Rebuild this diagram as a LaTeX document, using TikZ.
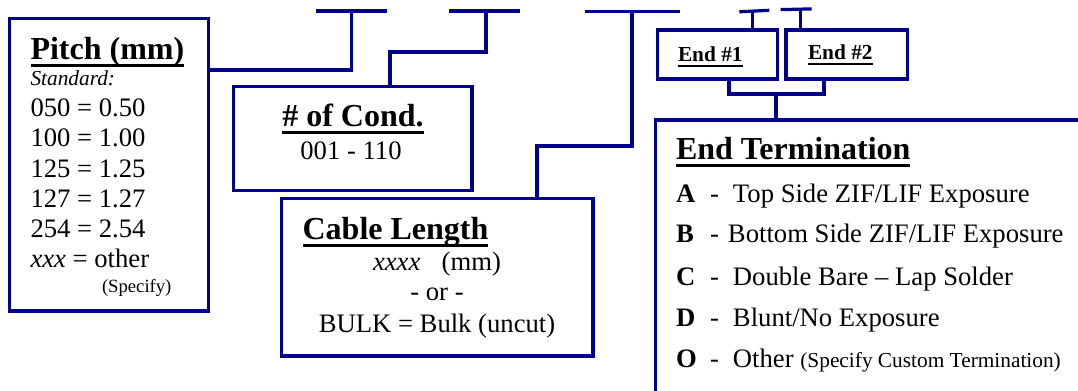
\documentclass[tikz,border=0pt]{standalone}
\usepackage{fontspec}
\setmainfont{Liberation Serif}
\definecolor{navy}{RGB}{0,0,140}
\newcommand\myul[1]{\setbox0\hbox{#1}\rlap{\rule[-0.22em]{\wd0}{0.09em}}\box0}
\newcommand\fs[1]{\fontsize{#1}{#1}\selectfont}
\newcommand\termline[3][42.75pt]{\makebox[#1][l]{\makebox[25.5pt][l]{\bfseries #2}-}#3}
\begin{document}
\begin{tikzpicture}[x=0.75pt,y=-0.75pt,
  box/.style={draw=navy, line width=2.4pt, anchor=north west, inner sep=0pt, outer sep=0pt},
  conn/.style={draw=navy, line width=2.4pt},
  txt/.style={anchor=base west, inner sep=0pt, outer sep=0pt, text=black}]
\clip (0,0) rectangle (1078,391);
\fill[white] (0,0) rectangle (1078,391);

% boxes
\node[box, minimum width=199*0.75pt, minimum height=292.5*0.75pt] (pitch) at (9.5,18.5) {};
\node[box, minimum width=238.5*0.75pt, minimum height=104*0.75pt] (cond) at (233.5,86.5) {};
\node[box, minimum width=311.3*0.75pt, minimum height=157.7*0.75pt] (cable) at (281.7,198.3) {};
\node[box, minimum width=120.2*0.75pt, minimum height=49*0.75pt] (end1) at (657.5,30) {};
\node[box, minimum width=121.3*0.75pt, minimum height=49*0.75pt] (end2) at (786,30) {};
\node[box, minimum width=500*0.75pt, minimum height=400*0.75pt] (term) at (655.5,120) {};

% top bars
\coordinate (t1) at (351.7,11);
\coordinate (t1l) at (316,11);
\coordinate (t1r) at (387,11);
\coordinate (t2) at (486,11);
\coordinate (b2) at (486,52);
\coordinate (t2l) at (449,11);
\coordinate (t2r) at (520,11);
\coordinate (t3) at (632,11);
\coordinate (b3) at (632,146);
\coordinate (t3l) at (585,11.5);
\coordinate (t3r) at (680,11.5);
\coordinate (t4) at (752.3,11);
\coordinate (t4l) at (739.3,11.8);
\coordinate (t4r) at (769.3,10.3);
\coordinate (t5) at (800.7,9.3);
\coordinate (t5l) at (780.7,9.6);
\coordinate (t5r) at (811.7,8.9);
\coordinate (j) at (776,94);

\draw[conn] (t1l) -- (t1r);
\draw[conn] (t2l) -- (t2r);
\draw[conn] (t3l) -- (t3r);
\draw[conn] (t4l) -- (t4r);
\draw[conn] (t5l) -- (t5r);

% connectors
\draw[conn] (pitch.north east) ++(0,51.5) -| (t1);
\draw[conn] (cond.north west) ++(156.5,0) |- (b2) -- (t2);
\draw[conn] (cable.north west) ++(255.3,0) |- (b3) -- (t3);
\draw[conn] (end1.north west) ++(94.8,0) -- (t4);
\draw[conn] (end2.north west) ++(14.7,0) -- (t5);
\draw[conn] (end1.south west) ++(71.5,0) |- (j);
\draw[conn] (end2.south west) ++(38,0) |- (j);
\draw[conn] (j) -- (j |- term.north);

% Pitch texts
\node[txt] (ptitle) at (30.5,59.5) {\fs{24pt}\bfseries\myul{Pitch (mm)}};
\node[txt] (p0) at (30.5,86) {\fs{16pt}\itshape Standard:};
\node[txt] (p1) at (30.5,117) {\fs{20pt}050 = 0.50};
\node[txt] (p2) at (30.5,147) {\fs{20pt}100 = 1.00};
\node[txt] (p3) at (30.5,177.5) {\fs{20pt}125 = 1.25};
\node[txt] (p4) at (30.5,207.5) {\fs{20pt}127 = 1.27};
\node[txt] (p5) at (30.5,238) {\fs{20pt}254 = 2.54};
\node[txt] (p6) at (30.5,268) {\fs{20pt}{\itshape xxx} = other};
\node[txt] (p7) at (102,293) {\fs{14pt}(Specify)};

% Cond texts
\node[txt, anchor=base] (ctitle) at (353,127) {\fs{24pt}\bfseries\myul{\# of Cond.}};
\node[txt, anchor=base] (cval) at (351,160) {\fs{20pt}001 - 110};

% Cable texts
\node[txt, anchor=base] (ltitle) at (395.5,240) {\fs{24pt}\bfseries\myul{Cable Length}};
\node[txt, anchor=base] (l1) at (437,271) {\fs{20pt}\textit{xxxx}\hspace{16pt}(mm)};
\node[txt, anchor=base] (l2) at (437,301) {\fs{20pt}- or -};
\node[txt, anchor=base] (l3) at (437,333) {\fs{20pt}BULK = Bulk (uncut)};

% End boxes
\node[txt] (e1) at (678,62) {\fs{16pt}\bfseries\myul{End \#1}};
\node[txt] (e2) at (808,60) {\fs{16pt}\bfseries\myul{End \#2}};

% Termination
\node[txt] (ttitle) at (676,160) {\fs{24pt}\bfseries\myul{End Termination}};
\node[txt] (ta) at (676,202.5) {\fs{20pt}\termline{A}{Top Side ZIF/LIF Exposure}};
\node[txt] (tb) at (676,243) {\fs{20pt}\termline[39pt]{B}{Bottom Side ZIF/LIF Exposure}};
\node[txt] (tc) at (676,285.5) {\fs{20pt}\termline{C}{Double Bare -- Lap Solder}};
\node[txt] (td) at (676,326.5) {\fs{20pt}\termline{D}{Blunt/No Exposure}};
\node[txt] (to) at (676,368) {\fs{20pt}\termline{O}{Other {\fs{16pt}(Specify Custom Termination)}}};
\end{tikzpicture}
\end{document}
